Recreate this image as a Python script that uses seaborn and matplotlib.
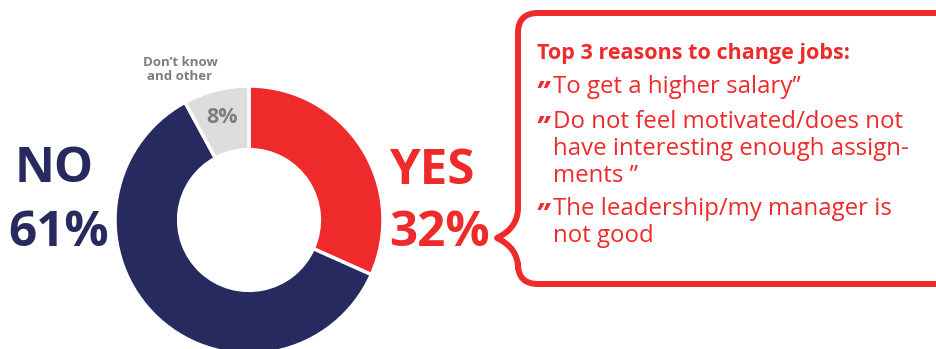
import matplotlib
matplotlib.use("Agg")
import matplotlib.pyplot as plt
import seaborn as sns
from matplotlib.path import Path
from matplotlib.patches import PathPatch

sns.set_theme(style="white")
plt.rcParams["font.family"] = ["Open Sans", "DejaVu Sans"]

# Survey answers
answers = ["YES", "NO", "Don\u2019t know\nand other"]
shares = [32, 61, 8]
colors = ["#EE2A2A", "#262A5E", "#DEDDDC"]

reasons_title = "Top 3 reasons to change jobs:"
reasons = [
    ["To get a higher salary\u201d"],
    ["Do not feel motivated/does not", "have interesting enough assign-", "ments \u201d"],
    ["The leadership/my manager is", "not good"],
]

RED = colors[0]
NAVY = colors[1]
GREY_TXT = "#7D7D7D"

W, H = 937, 349
fig = plt.figure(figsize=(W / 100, H / 100), dpi=100)
ax = fig.add_axes([0, 0, 1, 1])

# donut (pixel-like coordinates, y measured upward)
cx, cy, r = 249, H - 220, 134
ax.pie(shares, colors=colors, startangle=90, counterclock=False,
       center=(cx, cy), radius=r,
       wedgeprops=dict(width=r * 0.475, edgecolor="white", linewidth=2.5))
ax.set_xlim(0, W)
ax.set_ylim(0, H)
ax.set_aspect("equal")
ax.axis("off")

def ty(y):
    return H - y

# big labels
big = 35.5
ax.text(54, ty(170), "NO", color=NAVY, fontsize=big, fontweight="bold",
        ha="center", va="center")
ax.text(59, ty(233), f"{shares[1]}%", color=NAVY, fontsize=big, fontweight="bold",
        ha="center", va="center")
ax.text(432, ty(172), "YES", color=RED, fontsize=big, fontweight="bold",
        ha="center", va="center")
ax.text(439, ty(233), f"{shares[0]}%", color=RED, fontsize=big, fontweight="bold",
        ha="center", va="center")
ax.text(180, ty(70), answers[2], color=GREY_TXT, fontsize=9.5, fontweight="bold",
        ha="center", va="center", linespacing=1.1)
ax.text(222, ty(118), f"{shares[2]}%", color=GREY_TXT, fontsize=15.5,
        fontweight="bold", ha="center", va="center")

# callout frame with a brace point on the left side
x0, x1 = 518, 952
top, bot = 13, 284
rc = 20
px, py = 497, 238
verts = [
    (x0 + rc, ty(top)), (x1, ty(top)),
    (x1, ty(bot)), (x0 + rc, ty(bot)),
    (x0, ty(bot)), (x0, ty(bot - rc)),
    (x0, ty(268)),
    (x0, ty(248)), (px, ty(py)),
    (x0, ty(228)), (x0, ty(208)),
    (x0, ty(top + rc)),
    (x0, ty(top)), (x0 + rc, ty(top)),
]
codes = [Path.MOVETO, Path.LINETO, Path.LINETO, Path.LINETO,
         Path.CURVE3, Path.CURVE3,
         Path.LINETO,
         Path.CURVE3, Path.CURVE3,
         Path.CURVE3, Path.CURVE3,
         Path.LINETO,
         Path.CURVE3, Path.CURVE3]
ax.add_patch(PathPatch(Path(verts, codes), facecolor="none", edgecolor=RED,
                       linewidth=4.3, capstyle="round", joinstyle="round",
                       clip_on=False))

cfont = ["Open Sans", "DejaVu Sans"]
ax.text(537, ty(59), reasons_title, color=RED, fontsize=15.5, fontweight="bold",
        family=cfont, ha="left", va="baseline")
first_baselines = [93, 128, 215]
step = 27
for b0, lines in zip(first_baselines, reasons):
    ax.text(535, ty(b0 + 9), "\u201d", color=RED, fontsize=21, fontweight="bold",
            fontstyle="italic", family=cfont, ha="left", va="baseline")
    for i, line in enumerate(lines):
        ax.text(553, ty(b0 + i * step), line, color=RED, fontsize=17.3,
                family=cfont, ha="left", va="baseline")

fig.savefig("out.png", dpi=100, facecolor="white")
